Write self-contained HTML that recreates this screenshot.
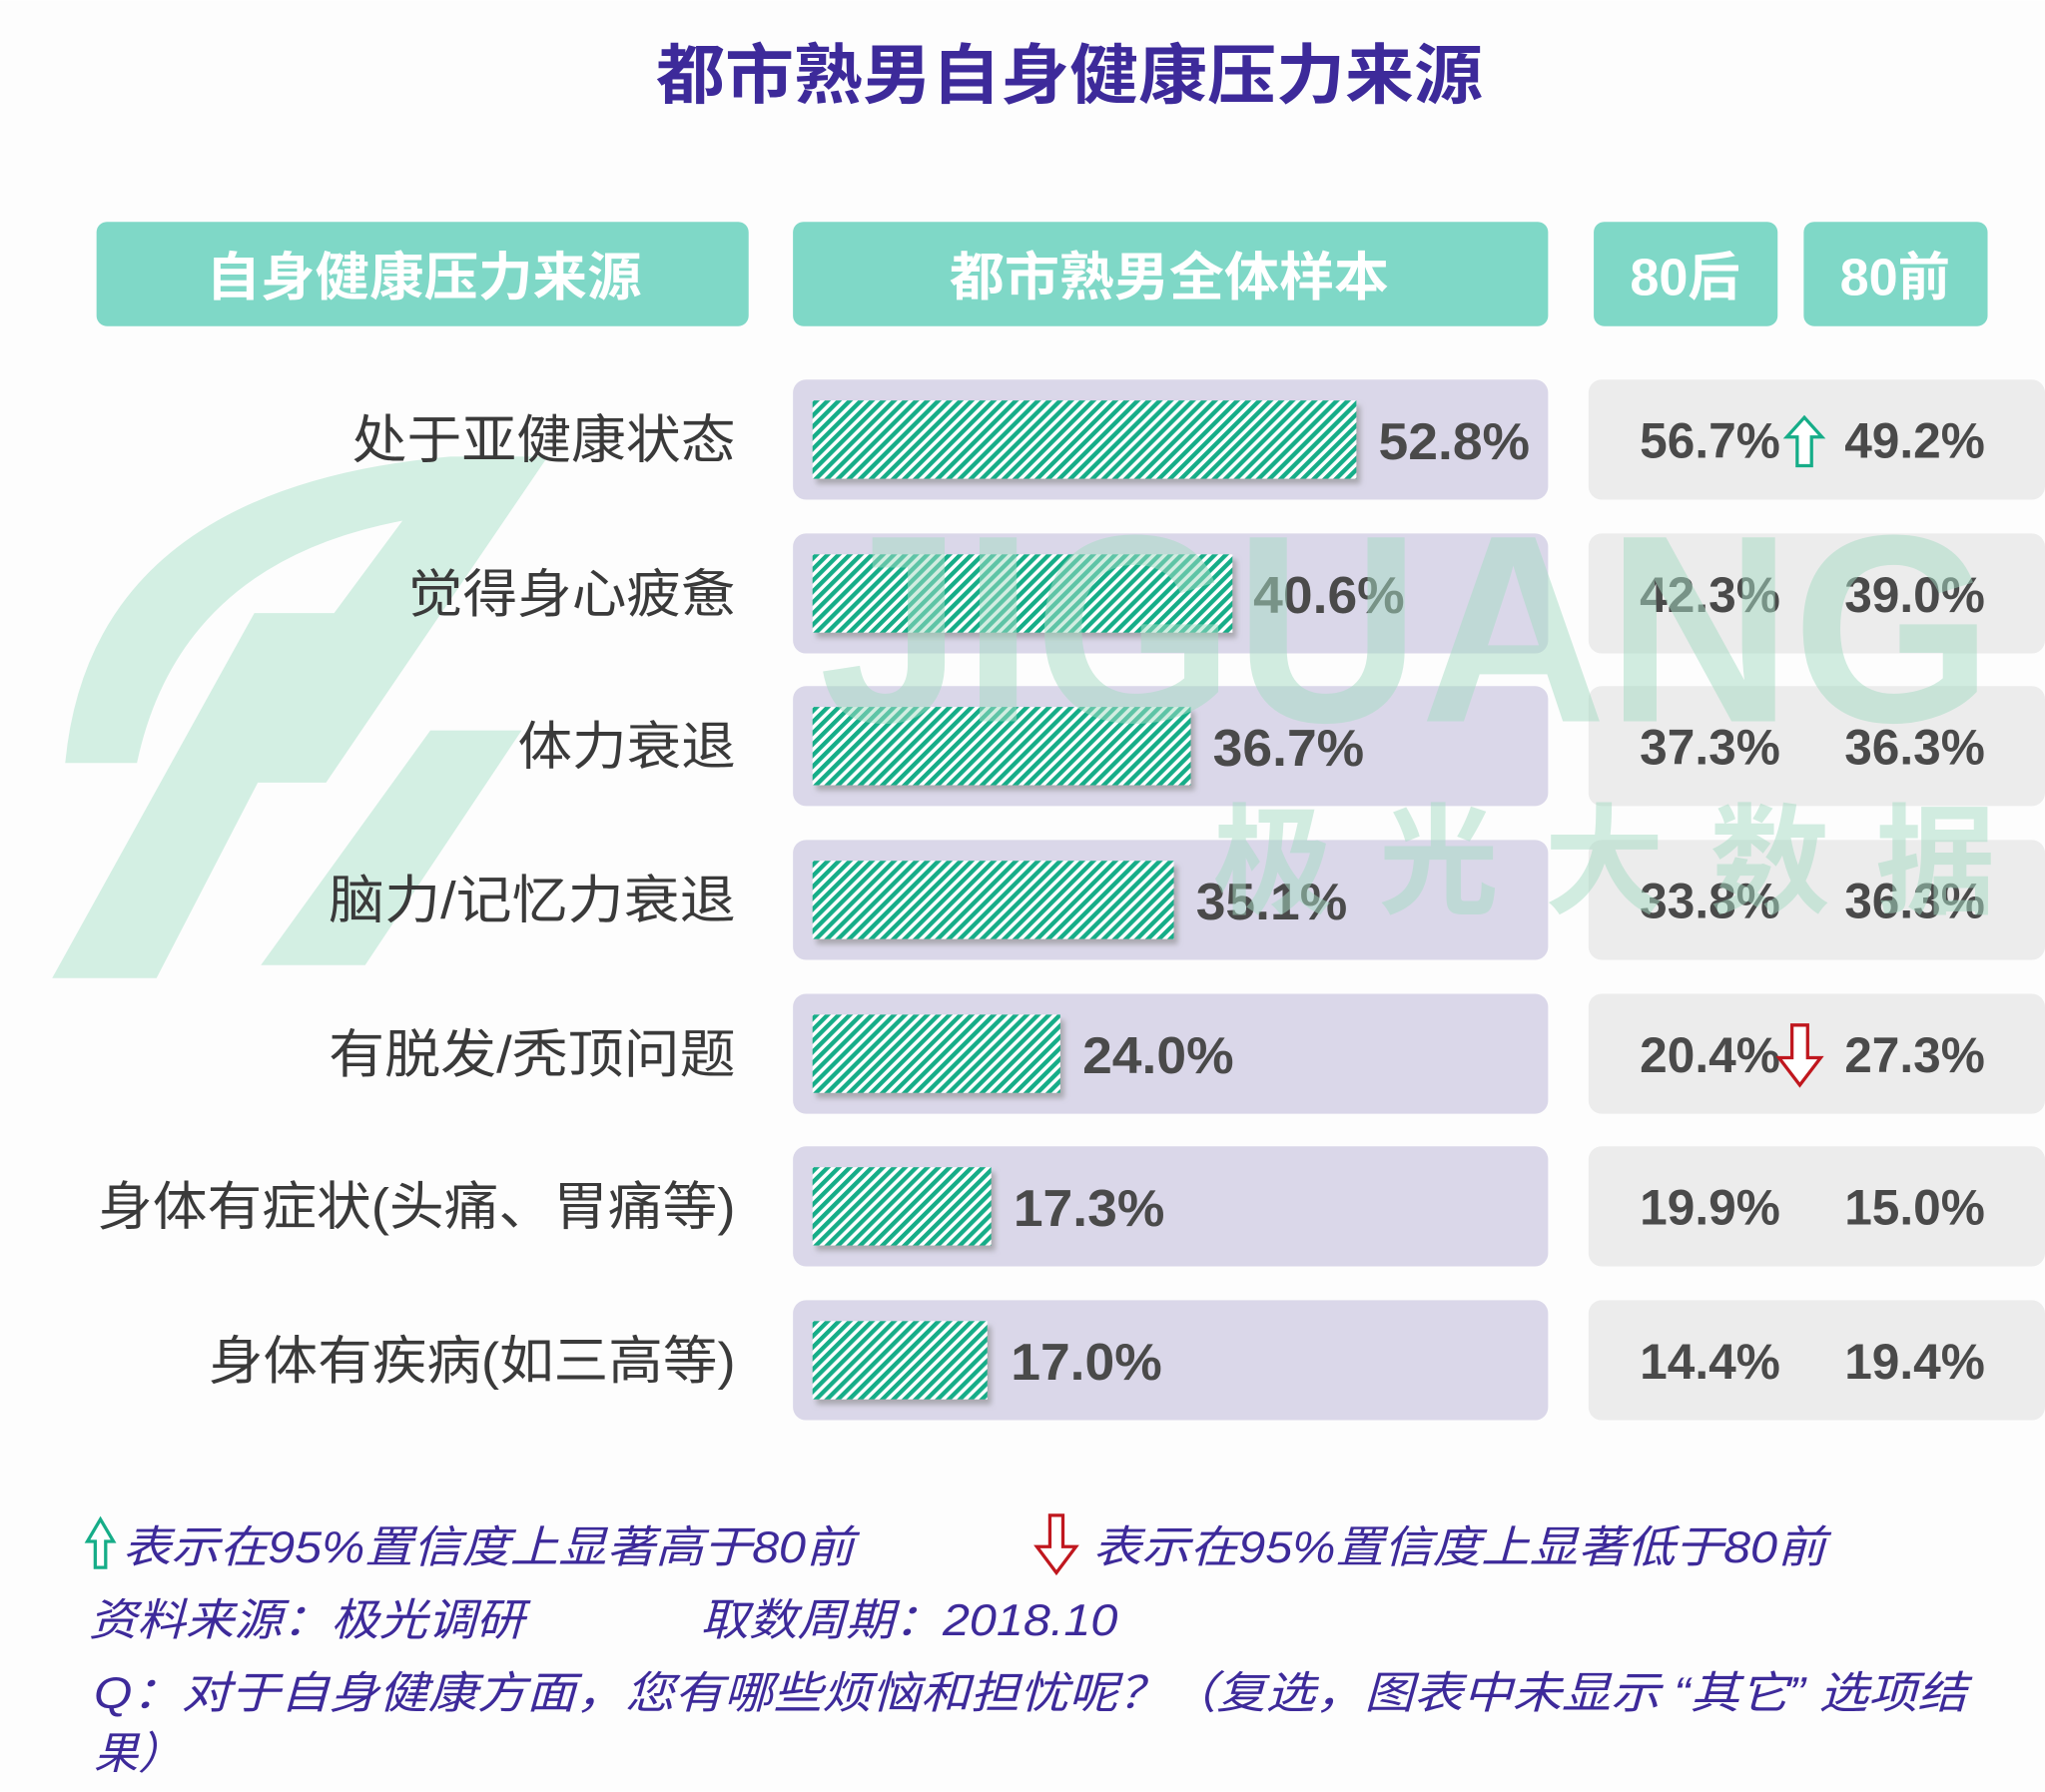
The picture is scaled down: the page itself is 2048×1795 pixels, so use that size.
<!DOCTYPE html>
<html><head><meta charset="utf-8">
<style>
html,body{margin:0;padding:0;background:#fff;}
svg{display:block;}
text{font-family:"Liberation Sans","Noto Sans CJK SC",sans-serif;}
</style></head>
<body>
<svg width="2048" height="1795" viewBox="0 0 1568 1374" xmlns="http://www.w3.org/2000/svg">
<defs>
<pattern id="h" width="6" height="6" patternUnits="userSpaceOnUse" patternTransform="rotate(45)">
<rect width="6" height="6" fill="#ffffff"/>
<rect width="3.3" height="6" fill="#16ad88"/>
</pattern>
<filter id="sh" x="-5%" y="-20%" width="110%" height="150%"><feDropShadow dx="3" dy="4" stdDeviation="2" flood-color="#888" flood-opacity="0.6"/></filter>
</defs>
<rect width="1568" height="1374" fill="#fdfdfd"/>
<!-- left logo watermark -->
<g fill="#d3efe3">
<path d="M50,585 Q70,375 345,350 L335,395 Q140,420 105,585 Z"/>
<polygon points="40,750 120,750 265,470 195,470"/>
<polygon points="160,600 250,600 420,350 345,350"/>
<polygon points="200,740 280,740 400,560 330,560"/>
</g>
<text x="324" y="75" textLength="634" lengthAdjust="spacingAndGlyphs" x2="0" font-size="50" font-weight="bold" fill="#3d2a9a" transform="translate(179,0)">都市熟男自身健康压力来源</text>

<g fill="#7fd8c7">
<rect x="74" y="170" width="500" height="80" rx="8"/>
<rect x="608" y="170" width="579" height="80" rx="8"/>
<rect x="1222" y="170" width="141" height="80" rx="8"/>
<rect x="1383" y="170" width="141" height="80" rx="8"/>
</g>
<g fill="#fff" font-size="40" font-weight="bold">
<text x="158" y="226" textLength="334" lengthAdjust="spacingAndGlyphs">自身健康压力来源</text>
<text x="728" y="226" textLength="337" lengthAdjust="spacingAndGlyphs">都市熟男全体样本</text>
<text x="1292" y="226" text-anchor="middle">80后</text>
<text x="1453" y="226" text-anchor="middle">80前</text>
</g>

<g>
<g transform="translate(0,337)">
<rect x="608" y="-46" width="579" height="92" rx="10" fill="#dad7e9"/>
<rect x="1218" y="-46" width="350" height="92" rx="10" fill="#ececec"/>
<rect x="623" y="-30" width="417" height="60" fill="url(#h)" filter="url(#sh)"/>
<text x="270" y="14" textLength="294" lengthAdjust="spacingAndGlyphs" font-size="40" fill="#3a3a3a">处于亚健康状态</text>
<text x="1057" y="15" textLength="116" lengthAdjust="spacingAndGlyphs" font-size="40" font-weight="bold" fill="#4a4a4a">52.8%</text>
<text x="1365" y="14" text-anchor="end" font-size="38" font-weight="bold" fill="#4a4a4a">56.7%</text>
<text x="1522" y="14" text-anchor="end" font-size="38" font-weight="bold" fill="#4a4a4a">49.2%</text>
<path d="M1370,-2 L1378,-2 L1378,20 L1389,20 L1389,-2 L1397,-2 L1383.5,-17 Z" fill="#fff" stroke="#16ad88" stroke-width="2.5"/>
</g>
<g transform="translate(0,455)">
<rect x="608" y="-46" width="579" height="92" rx="10" fill="#dad7e9"/>
<rect x="1218" y="-46" width="350" height="92" rx="10" fill="#ececec"/>
<rect x="623" y="-30" width="322" height="60" fill="url(#h)" filter="url(#sh)"/>
<text x="313" y="14" textLength="251" lengthAdjust="spacingAndGlyphs" font-size="40" fill="#3a3a3a">觉得身心疲惫</text>
<text x="961" y="15" textLength="116" lengthAdjust="spacingAndGlyphs" font-size="40" font-weight="bold" fill="#4a4a4a">40.6%</text>
<text x="1365" y="14" text-anchor="end" font-size="38" font-weight="bold" fill="#4a4a4a">42.3%</text>
<text x="1522" y="14" text-anchor="end" font-size="38" font-weight="bold" fill="#4a4a4a">39.0%</text>
</g>
<g transform="translate(0,572)">
<rect x="608" y="-46" width="579" height="92" rx="10" fill="#dad7e9"/>
<rect x="1218" y="-46" width="350" height="92" rx="10" fill="#ececec"/>
<rect x="623" y="-30" width="290" height="60" fill="url(#h)" filter="url(#sh)"/>
<text x="397" y="14" textLength="167" lengthAdjust="spacingAndGlyphs" font-size="40" fill="#3a3a3a">体力衰退</text>
<text x="930" y="15" textLength="116" lengthAdjust="spacingAndGlyphs" font-size="40" font-weight="bold" fill="#4a4a4a">36.7%</text>
<text x="1365" y="14" text-anchor="end" font-size="38" font-weight="bold" fill="#4a4a4a">37.3%</text>
<text x="1522" y="14" text-anchor="end" font-size="38" font-weight="bold" fill="#4a4a4a">36.3%</text>
</g>
<g transform="translate(0,690)">
<rect x="608" y="-46" width="579" height="92" rx="10" fill="#dad7e9"/>
<rect x="1218" y="-46" width="350" height="92" rx="10" fill="#ececec"/>
<rect x="623" y="-30" width="277" height="60" fill="url(#h)" filter="url(#sh)"/>
<text x="252" y="14" textLength="312" lengthAdjust="spacingAndGlyphs" font-size="40" fill="#3a3a3a">脑力/记忆力衰退</text>
<text x="917" y="15" textLength="116" lengthAdjust="spacingAndGlyphs" font-size="40" font-weight="bold" fill="#4a4a4a">35.1%</text>
<text x="1365" y="14" text-anchor="end" font-size="38" font-weight="bold" fill="#4a4a4a">33.8%</text>
<text x="1522" y="14" text-anchor="end" font-size="38" font-weight="bold" fill="#4a4a4a">36.3%</text>
</g>
<g transform="translate(0,808)">
<rect x="608" y="-46" width="579" height="92" rx="10" fill="#dad7e9"/>
<rect x="1218" y="-46" width="350" height="92" rx="10" fill="#ececec"/>
<rect x="623" y="-30" width="190" height="60" fill="url(#h)" filter="url(#sh)"/>
<text x="252" y="14" textLength="312" lengthAdjust="spacingAndGlyphs" font-size="40" fill="#3a3a3a">有脱发/秃顶问题</text>
<text x="830" y="15" textLength="116" lengthAdjust="spacingAndGlyphs" font-size="40" font-weight="bold" fill="#4a4a4a">24.0%</text>
<text x="1365" y="14" text-anchor="end" font-size="38" font-weight="bold" fill="#4a4a4a">20.4%</text>
<text x="1522" y="14" text-anchor="end" font-size="38" font-weight="bold" fill="#4a4a4a">27.3%</text>
<path d="M1374,-22 L1386,-22 L1386,3 L1396,3 L1380,24 L1364,3 L1374,3 Z" fill="#fff" stroke="#c0171e" stroke-width="2.5"/>
</g>
<g transform="translate(0,925)">
<rect x="608" y="-46" width="579" height="92" rx="10" fill="#dad7e9"/>
<rect x="1218" y="-46" width="350" height="92" rx="10" fill="#ececec"/>
<rect x="623" y="-30" width="137" height="60" fill="url(#h)" filter="url(#sh)"/>
<text x="75" y="14" textLength="489" lengthAdjust="spacingAndGlyphs" font-size="40" fill="#3a3a3a">身体有症状(头痛、胃痛等)</text>
<text x="777" y="15" textLength="116" lengthAdjust="spacingAndGlyphs" font-size="40" font-weight="bold" fill="#4a4a4a">17.3%</text>
<text x="1365" y="14" text-anchor="end" font-size="38" font-weight="bold" fill="#4a4a4a">19.9%</text>
<text x="1522" y="14" text-anchor="end" font-size="38" font-weight="bold" fill="#4a4a4a">15.0%</text>
</g>
<g transform="translate(0,1043)">
<rect x="608" y="-46" width="579" height="92" rx="10" fill="#dad7e9"/>
<rect x="1218" y="-46" width="350" height="92" rx="10" fill="#ececec"/>
<rect x="623" y="-30" width="134" height="60" fill="url(#h)" filter="url(#sh)"/>
<text x="160" y="14" textLength="404" lengthAdjust="spacingAndGlyphs" font-size="40" fill="#3a3a3a">身体有疾病(如三高等)</text>
<text x="775" y="15" textLength="116" lengthAdjust="spacingAndGlyphs" font-size="40" font-weight="bold" fill="#4a4a4a">17.0%</text>
<text x="1365" y="14" text-anchor="end" font-size="38" font-weight="bold" fill="#4a4a4a">14.4%</text>
<text x="1522" y="14" text-anchor="end" font-size="38" font-weight="bold" fill="#4a4a4a">19.4%</text>
</g>
</g>

<!-- text watermark -->
<g fill="#a6dcc4" opacity="0.5" font-weight="bold">
<text x="628" y="553" font-size="205" textLength="900" lengthAdjust="spacingAndGlyphs">JIGUANG</text>
<text x="930" y="693" font-size="92" textLength="600" lengthAdjust="spacing">极光大数据</text>
</g>

<g font-size="34" fill="#3d2a9a" font-style="italic">
<path d="M67,1182 L73,1182 L73,1202 L81,1202 L81,1182 L87,1182 L77,1165 Z" fill="#fff" stroke="#16ad88" stroke-width="2.5"/>
<text x="94" y="1198" textLength="561" lengthAdjust="spacingAndGlyphs">表示在95%置信度上显著高于80前</text>
<path d="M805,1162 L815,1162 L815,1186 L825,1186 L810,1206 L795,1186 L805,1186 Z" fill="#fff" stroke="#c0171e" stroke-width="2.5"/>
<text x="838" y="1198" textLength="562" lengthAdjust="spacingAndGlyphs">表示在95%置信度上显著低于80前</text>
<text x="68" y="1254" textLength="334" lengthAdjust="spacingAndGlyphs">资料来源：极光调研</text>
<text x="537" y="1254" textLength="320" lengthAdjust="spacingAndGlyphs">取数周期：2018.10</text>
<text x="72" y="1310" textLength="1436" lengthAdjust="spacingAndGlyphs">Q：对于自身健康方面，您有哪些烦恼和担忧呢？（复选，图表中未显示 “其它” 选项结</text>
<text x="72" y="1356" textLength="68" lengthAdjust="spacingAndGlyphs">果）</text>
</g>
</svg>
</body></html>
